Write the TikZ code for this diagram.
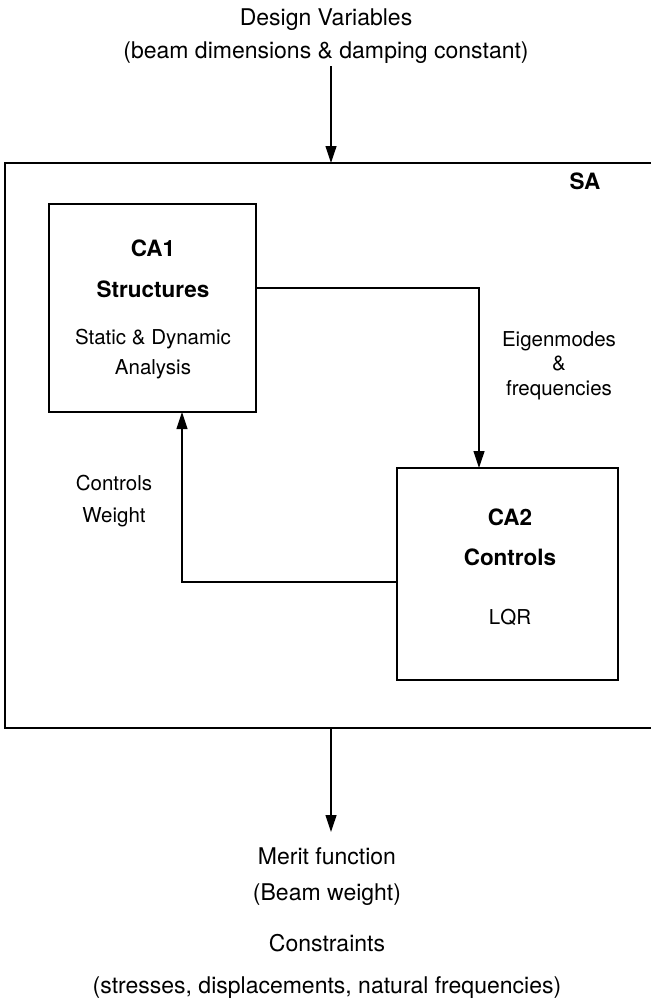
\documentclass[tikz,border=0pt]{standalone}
\usepackage{fontspec}
\setmainfont{TeX Gyre Heros}
\usetikzlibrary{arrows.meta}
\begin{document}
\begin{tikzpicture}[x=1pt,y=-1pt,
  conn/.style={line width=1.2pt},
  arr/.style={conn,-{Triangle[length=17pt,width=11pt]}},
  blockbox/.style={draw,line width=1.2pt,inner sep=0pt},
  big/.style={font=\fontsize{23}{27}\selectfont,anchor=base,inner sep=0pt},
  bigb/.style={font=\fontsize{22.5}{27}\selectfont\bfseries,anchor=base,inner sep=0pt},
  small/.style={font=\fontsize{20.5}{24}\selectfont,anchor=base,inner sep=0pt},
]
\useasboundingbox (0,0) rectangle (651,1002);

% outer SA box (open on the right, beyond the picture edge)
\coordinate (satr) at (652,163);
\coordinate (satl) at (5,163);
\coordinate (sabl) at (5,728);
\coordinate (sabr) at (652,728);
\draw[conn] (satr) -- (satl) -- (sabl) -- (sabr);
\node[bigb] (sa) at (585,189) {SA};

% top inputs
\node[big] (dv) at (326,25) {Design Variables};
\node[big] (dvsub) at (326,58) {(beam dimensions \& damping constant)};
\coordinate (dvend) at (331,66);
\coordinate (satop) at (331,163);
\draw[arr] (dvend) -- (satop);

% CA1 box
\node[blockbox,minimum width=207pt,minimum height=208pt] (ca1) at (152.5,308) {};
\node[bigb] (ca1a) at (153,256) {CA1};
\node[bigb] (ca1b) at (153,297) {Structures};
\node[small] (ca1c) at (153,344) {Static \& Dynamic};
\node[small] (ca1d) at (153,374) {Analysis};

% CA2 box
\node[blockbox,minimum width=221pt,minimum height=212pt] (ca2) at (507.5,574) {};
\node[bigb] (ca2a) at (510,525) {CA2};
\node[bigb] (ca2b) at (510,565) {Controls};
\node[small] (ca2c) at (510,624) {LQR};

% connector CA1 -> CA2
\coordinate (c1a) at (ca1.east |- 0,288);
\coordinate (c1b) at (479,288);
\coordinate (c1c) at (479,468);
\draw[arr] (c1a) -- (c1b) -- (c1c);
\node[small] (eig1) at (559,346) {Eigenmodes};
\node[small] (eig2) at (559,370) {\&};
\node[small] (eig3) at (559,395) {frequencies};

% connector CA2 -> CA1
\coordinate (c2a) at (ca2.west |- 0,582);
\coordinate (c2b) at (182,582);
\coordinate (c2c) at (182,412);
\draw[arr] (c2a) -- (c2b) -- (c2c);
\node[small] (cw1) at (114,490) {Controls};
\node[small] (cw2) at (114,522) {Weight};

% bottom outputs
\coordinate (sabot) at (331,728);
\coordinate (mfend) at (331,832);
\draw[arr] (sabot) -- (mfend);
\node[big] (mf1) at (327,864) {Merit function};
\node[big] (mf2) at (327,900) {(Beam weight)};
\node[big] (con1) at (327,951) {Constraints};
\node[big] (con2) at (327,993) {(stresses, displacements, natural frequencies)};
\end{tikzpicture}
\end{document}
